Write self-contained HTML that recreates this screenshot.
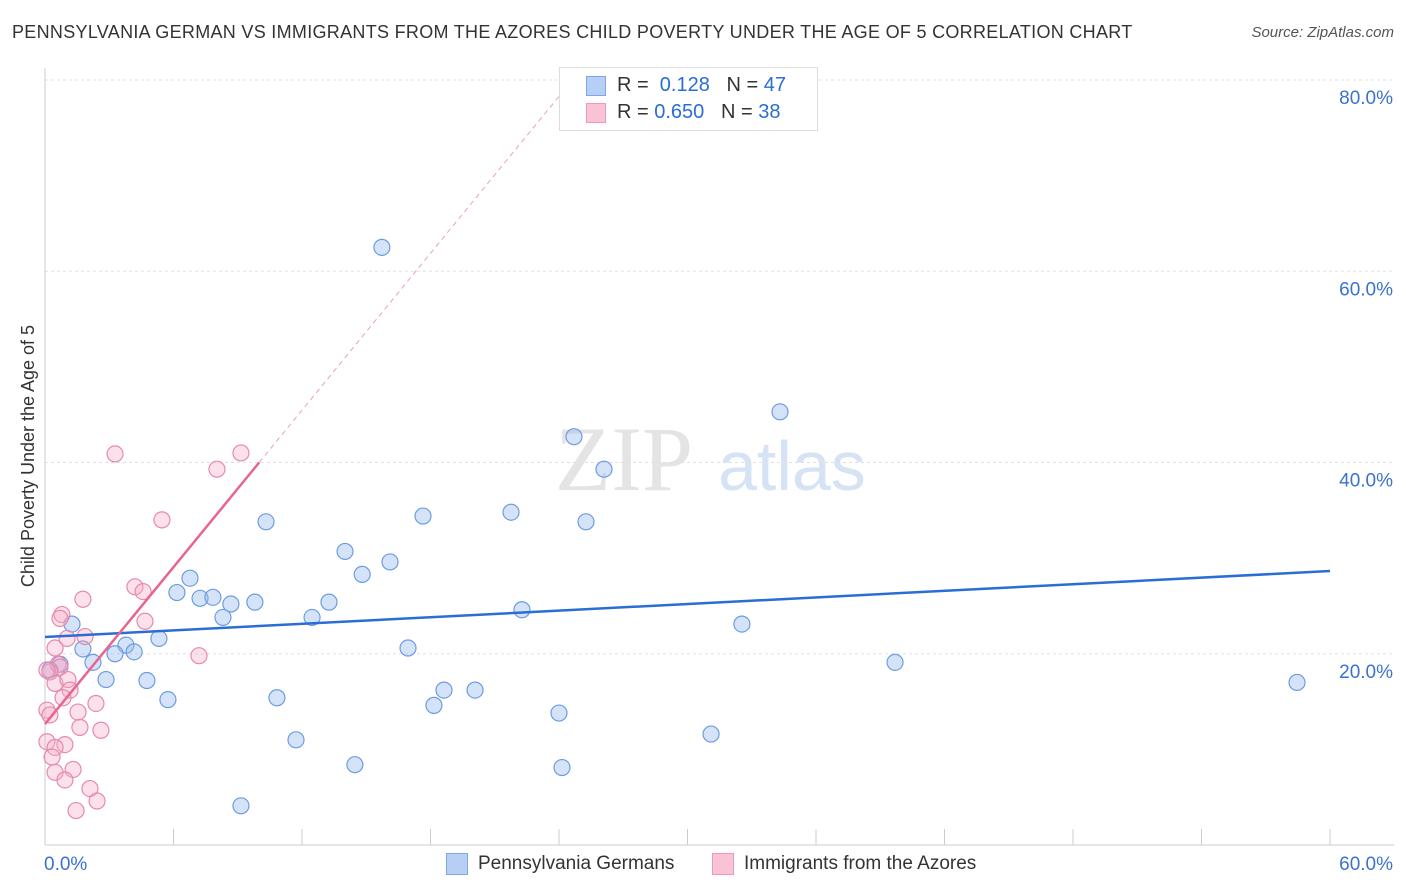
<!DOCTYPE html>
<html><head><meta charset="utf-8"><style>
body{margin:0;background:#fff;font-family:"Liberation Sans",sans-serif;}
#wrap{position:relative;width:1406px;height:892px;overflow:hidden;}
.t{position:absolute;white-space:nowrap;}
</style></head><body>
<div id="wrap">
<div class="t" style="left:12px;top:22px;font-size:18px;color:#333;letter-spacing:0.3px;">PENNSYLVANIA GERMAN VS IMMIGRANTS FROM THE AZORES CHILD POVERTY UNDER THE AGE OF 5 CORRELATION CHART</div>
<div class="t" style="right:12px;top:24px;font-size:15px;color:#555;font-style:italic;">Source: ZipAtlas.com</div>
<svg id="svg" width="1406" height="892" style="position:absolute;left:0;top:0"></svg>
</div>
<script>
const blueX=[15.73,34.32,24.70,26.10,10.32,17.65,21.76,25.26,14.01,16.11,14.81,6.77,6.16,7.24,7.84,8.68,9.80,13.26,22.27,12.47,8.31,32.54,1.26,5.32,3.78,4.16,3.27,1.77,2.24,0.70,16.95,39.69,58.46,2.85,4.76,5.74,10.83,18.63,20.08,18.16,24.0,31.1,11.72,14.47,24.14,9.15,0.23];
const blueY=[62.5,45.3,42.7,39.3,33.8,34.4,34.8,33.8,30.7,29.6,28.3,27.9,26.4,25.8,25.9,25.2,25.4,25.4,24.6,23.8,23.8,23.1,23.1,21.6,20.9,20.2,20.0,20.5,19.1,18.9,20.6,19.1,17.0,17.3,17.2,15.2,15.4,16.2,16.2,14.6,13.8,11.6,11.0,8.4,8.1,4.1,18.3];
const pinkX=[3.27,9.15,8.03,5.46,4.2,4.58,1.77,0.79,0.7,4.67,1.03,1.87,7.19,0.47,0.61,0.7,0.23,0.47,1.07,1.17,0.84,2.38,0.09,1.54,0.23,1.63,2.61,0.09,0.93,0.47,0.33,0.47,1.31,0.93,2.1,2.43,1.45,0.09];
const pinkY=[40.9,41.0,39.3,34.0,27.0,26.5,25.7,24.1,23.7,23.4,21.6,21.8,19.8,20.6,18.9,18.6,18.1,16.9,17.3,16.2,15.4,14.8,14.1,13.9,13.6,12.3,12.0,10.8,10.5,10.2,9.2,7.6,7.9,6.8,5.9,4.6,3.6,18.3];
const yTicks=[20,40,60,80];
const yTickLabels=["20.0%","40.0%","60.0%","80.0%"];
const blueTrend=[21.75,28.65];
const pinkTrend=[12.65,2.735];
const sx=v=>45+v*1285/60, sy=v=>845-v*9.5625;
const svg=document.getElementById('svg');const NS='http://www.w3.org/2000/svg';
function mk(tag,attrs,name){const e=document.createElementNS(NS,tag);for(const k in attrs)e.setAttribute(k,attrs[k]);


svg.appendChild(e);return e;}
let w=mk('text',{x:555,y:490,'font-size':92,fill:'#e4e4e4','font-family':'Liberation Serif'},'watermark-zip');w.textContent='ZIP';
w=mk('text',{x:718,y:490,'font-size':70,fill:'#d6e3f5','font-family':'Liberation Sans'},'watermark-atlas');w.textContent='atlas';
yTicks.forEach((t,i)=>{mk('line',{x1:45,x2:1394,y1:sy(t),y2:sy(t),stroke:'#e0e0e0','stroke-dasharray':'3,3'},'gridline');
let tx=mk('text',{x:1393,y:sy(t)+24,'text-anchor':'end','font-size':19,fill:'#3a72d0'},'y-tick-label');tx.textContent=yTickLabels[i];});
mk('line',{x1:45,x2:45,y1:68,y2:845,stroke:'#ccc'},'y-axis');
mk('line',{x1:45,x2:1394,y1:845,y2:845,stroke:'#ccc'},'x-axis');
for(let i=0;i<=10;i++){mk('line',{x1:sx(i*6),x2:sx(i*6),y1:829,y2:845,stroke:'#ccc'},'x-tick');}
let lab=mk('text',{x:44,y:870,'font-size':19,fill:'#3a72d0'},'x-tick-label');lab.textContent='0.0%';
lab=mk('text',{x:1393,y:870,'text-anchor':'end','font-size':19,fill:'#3a72d0'},'x-tick-label');lab.textContent='60.0%';
lab=mk('text',{x:34,y:456,'font-size':18,fill:'#333','text-anchor':'middle',transform:'rotate(-90 34 456)'},'y-axis-title');lab.textContent='Child Poverty Under the Age of 5';
blueX.forEach((x,i)=>mk('circle',{cx:sx(x),cy:sy(blueY[i]),r:8,fill:'rgba(150,185,240,0.4)',stroke:'#6d9ce2','stroke-width':1.2},'blue-point'));
pinkX.forEach((x,i)=>mk('circle',{cx:sx(pinkX[i]),cy:sy(pinkY[i]),r:8,fill:'rgba(245,170,200,0.35)',stroke:'#e68aab','stroke-width':1.2},'pink-point'));
mk('line',{x1:sx(0),y1:sy(blueTrend[0]),x2:sx(60),y2:sy(blueTrend[1]),stroke:'#2a6dd4','stroke-width':2.5},'blue-trend-line');
const xEnd=(40-pinkTrend[0])/pinkTrend[1], xDash=(80-pinkTrend[0])/pinkTrend[1];
mk('line',{x1:sx(0),y1:sy(pinkTrend[0]),x2:sx(xEnd),y2:sy(40),stroke:'#e8658f','stroke-width':2.5},'pink-trend-line');
mk('line',{x1:sx(xEnd),y1:sy(40),x2:sx(xDash),y2:sy(80),stroke:'#e8a0b8','stroke-width':1,'stroke-dasharray':'5,4'},'pink-trend-extension');
</script>
<div class="t" style="left:559px;top:67px;width:257px;height:62px;border:1px solid #ddd;background:#fff;"></div>
<div class="t" style="left:586px;top:76px;width:18px;height:18px;background:#b7cff5;border:1px solid #7fa6e6;"></div>
<div class="t" style="left:586px;top:103px;width:18px;height:18px;background:#f9c3d4;border:1px solid #ec9ab5;"></div>
<div class="t" style="left:617px;top:74px;font-size:20px;color:#333;">R = &nbsp;<span style="color:#2a6dd4">0.128</span> &nbsp;&nbsp;N = <span style="color:#2a6dd4">47</span></div>
<div class="t" style="left:617px;top:101px;font-size:20px;color:#333;">R = <span style="color:#2a6dd4">0.650</span> &nbsp;&nbsp;N = <span style="color:#2a6dd4">38</span></div>
<div class="t" style="left:446px;top:853px;width:20px;height:20px;background:#b7cff5;border:1px solid #7fa6e6;"></div>
<div class="t" style="left:478px;top:853px;font-size:19px;color:#333;">Pennsylvania Germans</div>
<div class="t" style="left:712px;top:853px;width:20px;height:20px;background:#f9c3d4;border:1px solid #ec9ab5;"></div>
<div class="t" style="left:744px;top:853px;font-size:19px;color:#333;">Immigrants from the Azores</div>
</body></html>
